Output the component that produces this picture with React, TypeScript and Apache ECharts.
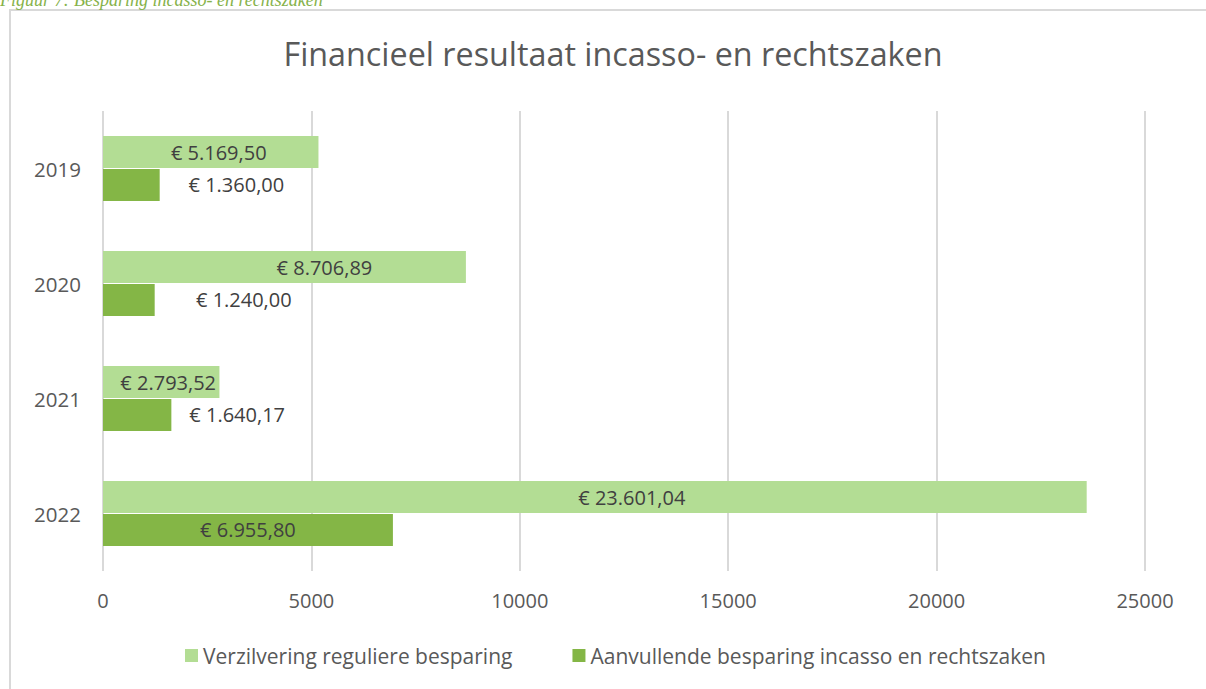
import React, { useEffect, useRef } from "react";
import * as echarts from "echarts";

const categories = ["2019", "2020", "2021", "2022"];
const regulier = [5169.5, 8706.89, 2793.52, 23601.04];
const aanvullend = [1360.0, 1240.0, 1640.17, 6955.8];
const seriesNames = ["Verzilvering reguliere besparing", "Aanvullende besparing incasso en rechtszaken"];
const xTicks = { min: 0, max: 25000, interval: 5000 };

// label horizontal offsets (style only)
const regulierLabelDx = [8, 40, 7, 37];
const aanvullendLabelDx = [105, 115, 100, 0];

const fmt = (v: number) => {
  const parts = v.toFixed(2).split(".");
  const int = parts[0].replace(/\B(?=(\d{3})+(?!\d))/g, ".");
  return "€ " + int + "," + parts[1];
};

const FONT = "'Open Sans', sans-serif";

export default function App() {
  const ref = useRef<HTMLDivElement>(null);
  useEffect(() => {
    if (!ref.current) return;
    const chart = echarts.init(ref.current, undefined, { renderer: "svg" });
    chart.setOption({
      animation: false,
      backgroundColor: "#ffffff",
      textStyle: { fontFamily: FONT },
      title: {
        text: "Financieel resultaat incasso- en rechtszaken",
        left: 608,
        textAlign: "center",
        top: 32,
        textStyle: { fontFamily: FONT, fontSize: 32.3, fontWeight: "normal", color: "#595959" },
      },
      graphic: [
        {
          type: "rect",
          shape: { x: 10, y: 10, width: 1220, height: 700 },
          style: { fill: "none", stroke: "#d9d9d9", lineWidth: 2 },
          silent: true,
        },
        {
          type: "text",
          x: 0,
          y: 9,
          style: {
            text: "Figuur 7: Besparing incasso- en rechtszaken",
            font: "italic 18px 'Liberation Serif', serif",
            fill: "#86b24a",
            verticalAlign: "bottom",
          },
          silent: true,
        },
      ],
      legend: {
        bottom: 18,
        left: 180,
        itemWidth: 13,
        itemHeight: 13,
        itemGap: 60,
        icon: "rect",
        textStyle: { fontFamily: FONT, fontSize: 21, color: "#595959", padding: [0, 0, 0, 0] },
        data: seriesNames,
      },
      grid: { left: 103, right: 61, top: 111, bottom: 118, containLabel: false },
      xAxis: {
        type: "value",
        min: xTicks.min,
        max: xTicks.max,
        interval: xTicks.interval,
        axisLine: { show: false },
        axisTick: { show: false },
        splitLine: { show: true, lineStyle: { color: "#d9d9d9", width: 2 } },
        axisLabel: {
          fontFamily: FONT,
          fontSize: 20,
          color: "#595959",
          margin: 19,
          formatter: (v: number) => String(v),
        },
      },
      yAxis: {
        type: "category",
        inverse: true,
        data: categories,
        axisLine: { show: false },
        axisTick: { show: false },
        axisLabel: { fontFamily: FONT, fontSize: 20.5, color: "#595959", margin: 22 },
      },
      series: [
        {
          name: seriesNames[0],
          type: "bar",
          barWidth: 32,
          barGap: "3%",
          itemStyle: { color: "#b3dd94" },
          data: regulier.map((v, i) => ({
            value: v,
            label: { offset: [regulierLabelDx[i], 0] },
          })),
          label: {
            show: true,
            position: "inside",
            formatter: (p: any) => fmt(p.value),
            fontFamily: FONT,
            fontSize: 20,
            color: "#404040",
          },
        },
        {
          name: seriesNames[1],
          type: "bar",
          barWidth: 32,
          itemStyle: { color: "#84b646" },
          data: aanvullend.map((v, i) => ({
            value: v,
            label: { offset: [aanvullendLabelDx[i], 0] },
          })),
          label: {
            show: true,
            position: "inside",
            formatter: (p: any) => fmt(p.value),
            fontFamily: FONT,
            fontSize: 20,
            color: "#404040",
          },
        },
      ],
    });
    return () => chart.dispose();
  }, []);
  return (
    <div
      ref={ref}
      style={{ position: "fixed", left: 0, top: 0, width: 1206, height: 689 }}
    />
  );
}
